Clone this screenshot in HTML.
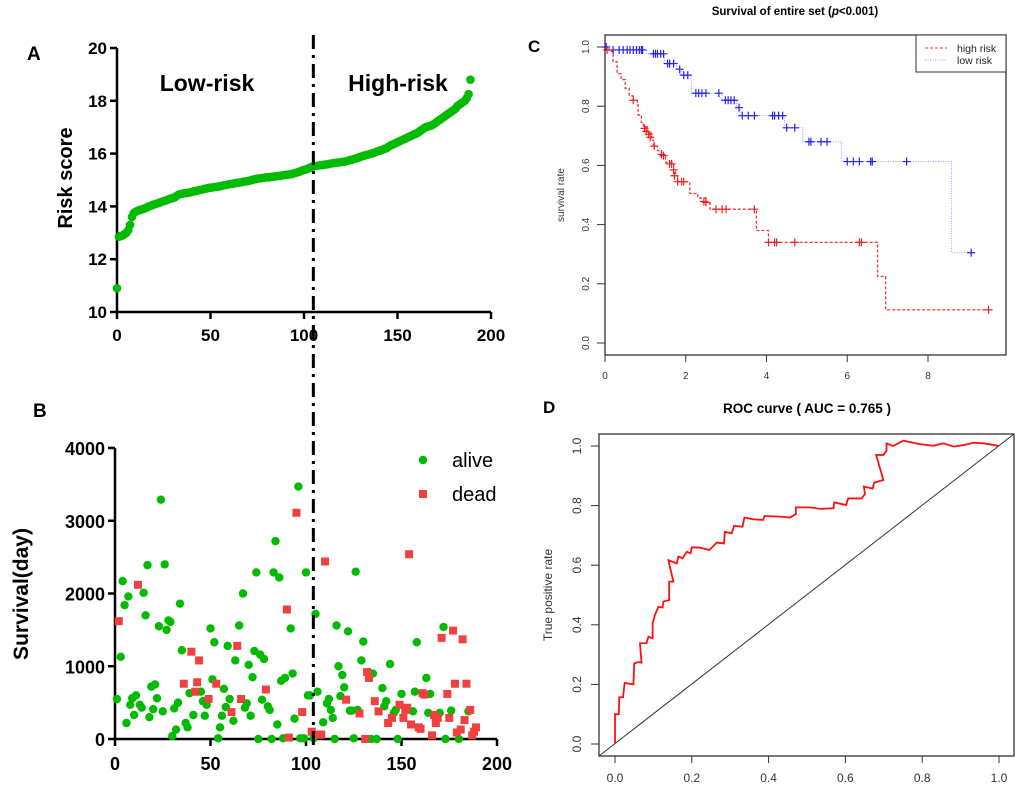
<!DOCTYPE html>
<html><head><meta charset="utf-8">
<style>
html,body{margin:0;padding:0;background:#fff;}
svg{display:block;font-family:"Liberation Sans",Arial,sans-serif;}
</style></head>
<body>
<svg id="fig" width="1020" height="786" viewBox="0 0 1020 786"></svg>
<script>
// ---------- DATA ----------
const riskScores = [10.9,12.85,12.88,12.9,12.95,13.0,13.1,13.3,13.6,13.75,
13.8,13.83,13.86,13.88,13.9,13.93,13.96,14.0,14.02,14.05,
14.08,14.1,14.12,14.15,14.18,14.2,14.22,14.25,14.28,14.3,
14.32,14.35,14.4,14.45,14.47,14.48,14.5,14.5,14.52,14.53,
14.55,14.57,14.58,14.6,14.62,14.63,14.65,14.67,14.68,14.7,
14.71,14.72,14.73,14.74,14.75,14.76,14.78,14.8,14.81,14.82,
14.84,14.85,14.86,14.88,14.89,14.9,14.91,14.92,14.94,14.95,
14.96,14.98,15.0,15.02,15.03,15.05,15.06,15.07,15.08,15.09,
15.1,15.1,15.11,15.12,15.13,15.14,15.15,15.16,15.17,15.18,
15.19,15.2,15.21,15.22,15.24,15.26,15.28,15.3,15.33,15.36,
15.38,15.4,15.43,15.46,15.5,15.52,15.53,15.54,15.55,15.56,
15.57,15.58,15.59,15.6,15.62,15.63,15.64,15.65,15.66,15.67,
15.68,15.69,15.7,15.72,15.74,15.76,15.78,15.8,15.82,15.85,
15.87,15.9,15.92,15.94,15.96,15.98,16.0,16.02,16.05,16.08,
16.1,16.12,16.15,16.18,16.2,16.25,16.3,16.33,16.36,16.4,
16.43,16.46,16.5,16.53,16.56,16.6,16.63,16.66,16.7,16.73,
16.76,16.8,16.85,16.9,16.95,17.0,17.02,17.04,17.06,17.1,
17.15,17.2,17.25,17.3,17.35,17.4,17.45,17.5,17.55,17.6,
17.65,17.7,17.8,17.85,17.9,17.95,18.0,18.1,18.25,18.8];
const cutoffIndex = 105;

const aliveIdx = [1,3,4,5,6,7,8,9,10,11,13,14,15,16,17,18,19,20,21,22,23,24,25,26,27,28,29,30,31,32,33,34,35,37,38,39,41,45,46,47,48,50,51,52,54,55,56,57,58,59,60,62,63,65,67,68,69,70,71,72,73,74,75,76,77,78,80,81,82,83,84,85,86,87,88,89,92,93,94,96,97,99,100,101,102,104,105,106,109,111,112,113,114,115,116,117,118,119,120,122,123,124,125,126,127,129,130,134,135,137,140,141,142,144,146,147,148,150,156,157,158,163,164,165,170,172,173,176,180,185];
const aliveDays = [550,1130,2170,1840,220,1960,470,560,330,600,470,430,2010,1700,2390,300,720,410,750,560,1550,3290,380,2400,1500,1630,1610,40,420,130,500,1860,1220,220,160,630,330,650,520,320,470,1520,820,1330,10,160,320,690,440,1280,550,250,1080,1560,2000,430,490,1020,320,850,1210,2290,0,1160,540,1100,450,400,0,2290,2720,200,2220,800,10,840,1520,900,280,3470,10,10,2290,600,600,10,1720,650,230,490,550,400,290,0,1560,1000,590,880,710,1480,390,390,10,2300,400,1080,1340,0,900,0,700,450,520,1030,360,400,0,620,380,650,1330,840,360,620,360,1540,0,390,0,380];
const deadIdx = [2,12,36,40,42,43,44,49,53,61,64,66,79,90,91,95,98,103,107,108,110,121,128,131,132,133,136,138,143,145,149,151,152,153,154,155,159,160,161,162,166,167,168,169,171,174,175,177,178,179,181,182,183,184,186,187,188,189];
const deadDays = [1620,2120,760,1200,650,780,1080,550,760,370,1280,550,680,1780,20,3110,370,100,60,60,2440,540,350,0,920,840,520,380,220,290,470,290,400,430,2540,200,160,140,630,610,50,330,220,290,1390,620,290,1490,760,90,130,1370,260,760,400,50,100,160];

// KM low risk (blue)
const lowStepT = [0,0.1,1.03,1.47,1.77,1.89,2.14,2.89,3.26,3.34,4.45,4.9,5.86,8.58,9.07];
const lowStepS = [1.0,0.99,0.977,0.944,0.925,0.905,0.844,0.82,0.795,0.768,0.727,0.68,0.613,0.305,0.305];
const lowCensT = [0.03,0.2,0.35,0.45,0.55,0.62,0.7,0.78,0.85,0.9,0.93,1.2,1.25,1.3,1.38,1.45,1.55,1.6,1.7,1.85,1.95,2.05,2.25,2.32,2.4,2.5,2.82,2.98,3.05,3.12,3.2,3.32,3.4,3.55,3.7,4.15,4.2,4.3,4.4,4.5,4.7,5.05,5.1,5.35,5.5,6.0,6.15,6.3,6.58,6.62,7.47,9.07];
const lowCensS = [1.0,0.99,0.99,0.99,0.99,0.99,0.99,0.99,0.99,0.99,0.99,0.977,0.977,0.977,0.977,0.977,0.944,0.944,0.944,0.925,0.905,0.905,0.844,0.844,0.844,0.844,0.844,0.82,0.82,0.82,0.82,0.795,0.768,0.768,0.768,0.768,0.768,0.768,0.768,0.727,0.727,0.68,0.68,0.68,0.68,0.613,0.613,0.613,0.613,0.613,0.613,0.305];
// KM high risk (red)
const highStepT = [0,0.1,0.2,0.3,0.4,0.5,0.6,0.7,0.8,0.82,0.9,0.95,1.05,1.15,1.2,1.3,1.4,1.5,1.7,1.75,1.8,2.1,2.3,2.5,2.6,3.75,4.05,6.75,6.95,9.5];
const highStepS = [1.0,0.985,0.95,0.91,0.89,0.86,0.835,0.82,0.805,0.77,0.745,0.73,0.71,0.685,0.665,0.65,0.635,0.61,0.585,0.565,0.545,0.505,0.49,0.475,0.452,0.38,0.34,0.225,0.112,0.112];
const highCensT = [0.05,0.7,0.98,1.02,1.08,1.12,1.22,1.4,1.45,1.6,1.65,1.7,1.72,1.8,1.9,1.95,2.45,2.5,2.75,2.9,3.0,3.7,4.05,4.2,4.25,4.7,6.3,6.35,9.5];
const highCensS = [0.99,0.82,0.725,0.715,0.705,0.695,0.665,0.637,0.633,0.605,0.605,0.585,0.565,0.545,0.545,0.545,0.478,0.475,0.452,0.452,0.452,0.452,0.34,0.34,0.34,0.34,0.34,0.34,0.112];

// ROC
const rocFpr = [0,0,0.01,0.011,0.021,0.025,0.048,0.05,0.06,0.069,0.065,0.082,0.087,0.098,0.098,0.104,0.113,0.124,0.126,0.141,0.141,0.152,0.139,0.161,0.165,0.176,0.187,0.197,0.2,0.221,0.246,0.265,0.284,0.286,0.304,0.31,0.332,0.337,0.36,0.386,0.389,0.43,0.456,0.471,0.471,0.508,0.534,0.569,0.571,0.602,0.607,0.642,0.651,0.648,0.671,0.675,0.699,0.68,0.699,0.707,0.707,0.724,0.751,0.795,0.829,0.855,0.882,0.907,0.934,0.96,1.0];
const rocTpr = [0,0.10,0.10,0.157,0.157,0.205,0.20,0.27,0.275,0.273,0.338,0.338,0.36,0.355,0.405,0.433,0.46,0.458,0.478,0.483,0.545,0.545,0.617,0.606,0.629,0.623,0.645,0.64,0.66,0.659,0.651,0.676,0.673,0.712,0.707,0.732,0.729,0.76,0.754,0.752,0.765,0.763,0.76,0.772,0.794,0.794,0.789,0.791,0.811,0.802,0.824,0.824,0.839,0.864,0.857,0.877,0.886,0.97,0.97,0.984,1.009,1.0,1.018,1.006,1.001,1.009,0.998,1.003,1.011,1.009,1.0];

const aTicksX=[0,50,100,150,200], aTicksY=[10,12,14,16,18,20];
const bTicksY=[0,1000,2000,3000,4000];
const cTicksX=[0,2,4,6,8], cTicksY=[0,0.2,0.4,0.6,0.8,1.0];
const dTicks=[0,0.2,0.4,0.6,0.8,1.0];

// ---------- helpers ----------
const NS='http://www.w3.org/2000/svg';
const svg=document.getElementById('fig');
function mk(tag,attrs,parent){const e=document.createElementNS(NS,tag);for(const k in attrs)e.setAttribute(k,attrs[k]);(parent||svg).appendChild(e);return e;}
function txt(s,attrs,parent){const e=mk('text',attrs,parent);e.textContent=s;return e;}
function lin(a,b,c,d){return (v)=>c+(v-a)*(d-c)/(b-a);}

// ---------- Panel A ----------
const gA=mk('g',{});


const axX=lin(0,200,117,491), axY=lin(10,20,312,48);
let e=mk('line',{x1:117,y1:48,x2:117,y2:312,stroke:'#000','stroke-width':2.5},gA);

e=mk('line',{x1:116,y1:312,x2:491,y2:312,stroke:'#000','stroke-width':2.5},gA);

aTicksY.forEach(v=>{mk('line',{x1:110,y1:axY(v),x2:117,y2:axY(v),stroke:'#000','stroke-width':2.5},gA);
 const t=txt(String(v),{x:107,y:axY(v)+6,'text-anchor':'end','font-size':17,'font-weight':'bold'},gA);
 });
aTicksX.forEach(v=>{mk('line',{x1:axX(v),y1:312,x2:axX(v),y2:319,stroke:'#000','stroke-width':2.5},gA);
 const t=txt(String(v),{x:axX(v),y:341,'text-anchor':'middle','font-size':17,'font-weight':'bold'},gA);
 });
riskScores.forEach((v,i)=>{const c=mk('circle',{cx:axX(i),cy:axY(v),r:4.3,fill:'#00bb00'},gA);
 
 });
e=txt('Risk score',{x:0,y:0,transform:'translate(72,178) rotate(-90)','text-anchor':'middle','font-size':20,'font-weight':'bold'},gA);

e=txt('Low-risk',{x:207,y:91,'text-anchor':'middle','font-size':23,'font-weight':'bold'},gA);

e=txt('High-risk',{x:398,y:91,'text-anchor':'middle','font-size':23,'font-weight':'bold'},gA);

e=txt('A',{x:27,y:60,'font-size':19,'font-weight':'bold'},gA);


// ---------- Panel B ----------
const gB=mk('g',{});


const bxX=lin(0,200,115,497), bxY=lin(0,4000,739,448);
e=mk('line',{x1:115,y1:448,x2:115,y2:739,stroke:'#000','stroke-width':2.5},gB);

e=mk('line',{x1:114,y1:739,x2:497,y2:739,stroke:'#000','stroke-width':2.5},gB);

bTicksY.forEach(v=>{mk('line',{x1:108,y1:bxY(v),x2:115,y2:bxY(v),stroke:'#000','stroke-width':2.5},gB);
 const t=txt(String(v),{x:105,y:bxY(v)+7,'text-anchor':'end','font-size':18,'font-weight':'bold'},gB);
 });
aTicksX.forEach(v=>{mk('line',{x1:bxX(v),y1:739,x2:bxX(v),y2:746,stroke:'#000','stroke-width':2.5},gB);
 const t=txt(String(v),{x:bxX(v),y:770,'text-anchor':'middle','font-size':18,'font-weight':'bold'},gB);
 });
aliveIdx.forEach((ix,k)=>{const c=mk('circle',{cx:bxX(ix),cy:bxY(aliveDays[k]),r:4.2,fill:'#00bb00'},gB);
 
 });
deadIdx.forEach((ix,k)=>{const r=mk('rect',{x:bxX(ix)-4,y:bxY(deadDays[k])-4,width:8,height:8,fill:'#f04040'},gB);
 
 });
e=txt('Survival(day)',{x:0,y:0,transform:'translate(28,594) rotate(-90)','text-anchor':'middle','font-size':21,'font-weight':'bold'},gB);

e=txt('B',{x:33,y:417,'font-size':19,'font-weight':'bold'},gB);

e=mk('circle',{cx:423,cy:460,r:4.2,fill:'#00bb00'},gB);

e=txt('alive',{x:452,y:467,'font-size':20},gB);

e=mk('rect',{x:419,y:490,width:8,height:8,fill:'#f04040'},gB);

e=txt('dead',{x:452,y:501,'font-size':20},gB);


// cutoff line spanning A and B
e=mk('line',{x1:axX(cutoffIndex),y1:35,x2:axX(cutoffIndex),y2:748,stroke:'#000','stroke-width':3,'stroke-dasharray':'14,6,3,6'});


// ---------- Panel C ----------
const gC=mk('g',{});


const cX=lin(0,8,605,928), cY=lin(0,1,343,47);
e=mk('rect',{x:605,y:35,width:401,height:320,fill:'none',stroke:'#333','stroke-width':1.3},gC);

cTicksY.forEach(v=>{mk('line',{x1:597,y1:cY(v),x2:605,y2:cY(v),stroke:'#333','stroke-width':1},gC);
 const t=txt(v.toFixed(1),{x:0,y:0,transform:`translate(589,${cY(v)}) rotate(-90)`,'text-anchor':'middle','font-size':10,fill:'#333'},gC);
 });
cTicksX.forEach(v=>{mk('line',{x1:cX(v),y1:355,x2:cX(v),y2:362,stroke:'#333','stroke-width':1},gC);
 const t=txt(String(v),{x:cX(v),y:379,'text-anchor':'middle','font-size':10,fill:'#333'},gC);
 });
function stepPath(T,S){let d=`M${cX(T[0])},${cY(S[0])}`;for(let i=1;i<T.length;i++){d+=`H${cX(T[i])}V${cY(S[i])}`;}return d;}
e=mk('path',{d:stepPath(lowStepT,lowStepS),fill:'none',stroke:'#9999ff','stroke-width':1,'stroke-dasharray':'1,1.5'},gC);

e=mk('path',{d:stepPath(highStepT,highStepS),fill:'none',stroke:'#ff3030','stroke-width':1.3,'stroke-dasharray':'3,2'},gC);

function cross(x,y,col,name){const p=mk('path',{d:`M${x-4},${y}H${x+4}M${x},${y-4}V${y+4}`,stroke:col,'stroke-width':1.2},gC);
 }
lowCensT.forEach((t,i)=>cross(cX(t),cY(lowCensS[i]),'#2222ee','low-risk-censor'));
highCensT.forEach((t,i)=>cross(cX(t),cY(highCensS[i]),'#ee2222','high-risk-censor'));
e=txt('survival rate',{x:0,y:0,transform:'translate(564,195) rotate(-90)','text-anchor':'middle','font-size':10,fill:'#333'},gC);

e=mk('text',{x:795,y:15,'text-anchor':'middle','font-size':11.5,'font-weight':'bold'},gC);
e.innerHTML='Survival of entire set (<tspan font-style="italic">p</tspan>&lt;0.001)';

e=txt('C',{x:528,y:52,'font-size':17,'font-weight':'bold'},gC);

const lg=mk('g',{},gC);

mk('rect',{x:916,y:35,width:90,height:37,fill:'#fff',stroke:'#333','stroke-width':1},lg);
mk('line',{x1:925,y1:48,x2:947,y2:48,stroke:'#ff3030','stroke-width':1,'stroke-dasharray':'3,2'},lg);
mk('line',{x1:925,y1:60,x2:947,y2:60,stroke:'#9999ff','stroke-width':1,'stroke-dasharray':'1,1.5'},lg);
e=txt('high risk',{x:957,y:52,'font-size':10.5,fill:'#222'},lg);

e=txt('low risk',{x:957,y:64,'font-size':10.5,fill:'#222'},lg);


// ---------- Panel D ----------
const gD=mk('g',{});


const dX=lin(0,1,615,999), dY=lin(0,1,744,446);
e=mk('rect',{x:599,y:434,width:415,height:322,fill:'none',stroke:'#333','stroke-width':1.3},gD);

dTicks.forEach(v=>{mk('line',{x1:591,y1:dY(v),x2:599,y2:dY(v),stroke:'#333','stroke-width':1},gD);
 const t=txt(v.toFixed(1),{x:0,y:0,transform:`translate(581,${dY(v)}) rotate(-90)`,'text-anchor':'middle','font-size':12,fill:'#333'},gD);
 
 mk('line',{x1:dX(v),y1:756,x2:dX(v),y2:763,stroke:'#333','stroke-width':1},gD);
 const u=txt(v.toFixed(1),{x:dX(v),y:782,'text-anchor':'middle','font-size':12,fill:'#333'},gD);
 });
e=mk('line',{x1:599,y1:756,x2:1014,y2:434,stroke:'#333','stroke-width':1},gD);

e=mk('path',{d:rocFpr.map((f,i)=>(i?'L':'M')+dX(f)+','+dY(rocTpr[i])).join(''),fill:'none',stroke:'#ff1010','stroke-width':1.8},gD);

e=txt('True positive rate',{x:0,y:0,transform:'translate(552,595) rotate(-90)','text-anchor':'middle','font-size':12,fill:'#333'},gD);

e=txt('ROC curve ( AUC =  0.765 )',{x:807,y:413,'text-anchor':'middle','font-size':13.5,'font-weight':'bold','xml:space':'preserve'},gD);

e=txt('D',{x:543,y:413,'font-size':17,'font-weight':'bold'},gD);

</script>
</body></html>
